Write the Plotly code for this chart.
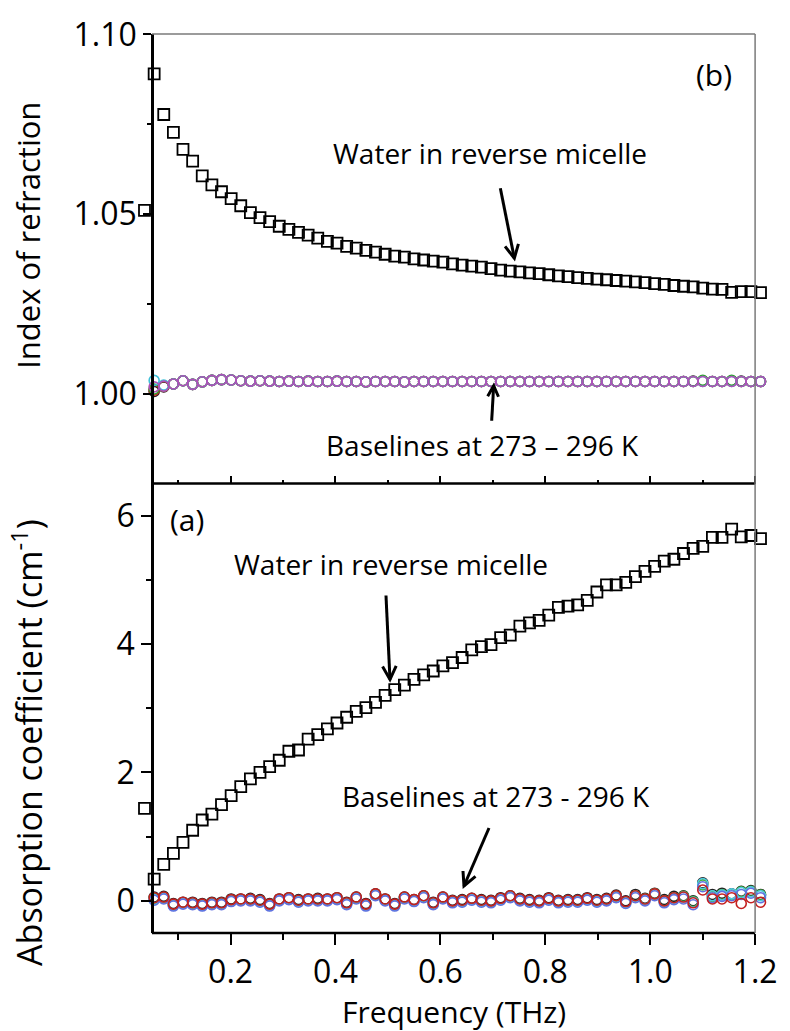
import math
import plotly.graph_objects as go

# Frequency grid (THz) shared by all spectra
freq = [0.0359, 0.0543, 0.0726, 0.0910, 0.1093, 0.1277, 0.1460, 0.1644, 0.1827, 0.2011,
        0.2194, 0.2378, 0.2561, 0.2745, 0.2928, 0.3112, 0.3295, 0.3479, 0.3662, 0.3846,
        0.4029, 0.4213, 0.4396, 0.4580, 0.4763, 0.4947, 0.5130, 0.5314, 0.5497, 0.5681,
        0.5864, 0.6048, 0.6231, 0.6415, 0.6598, 0.6782, 0.6965, 0.7149, 0.7332, 0.7516,
        0.7699, 0.7883, 0.8066, 0.8250, 0.8433, 0.8617, 0.8800, 0.8984, 0.9167, 0.9351,
        0.9534, 0.9718, 0.9901, 1.0085, 1.0268, 1.0452, 1.0635, 1.0819, 1.1002, 1.1186,
        1.1369, 1.1553, 1.1736, 1.1920, 1.2103]
freq_base = freq[1:]

# (b) index of refraction of water in reverse micelle
n_water = [1.0510, 1.0890, 1.0777, 1.0727, 1.0680, 1.0647, 1.0606, 1.0581, 1.0562, 1.0543,
           1.0523, 1.0504, 1.0490, 1.0479, 1.0466, 1.0457, 1.0449, 1.0441, 1.0433, 1.0424,
           1.0419, 1.0410, 1.0405, 1.0399, 1.0394, 1.0388, 1.0383, 1.0380, 1.0375, 1.0372,
           1.0369, 1.0366, 1.0361, 1.0358, 1.0355, 1.0352, 1.0348, 1.0344, 1.0341, 1.0339,
           1.0336, 1.0334, 1.0331, 1.0328, 1.0326, 1.0323, 1.0321, 1.0319, 1.0317, 1.0315,
           1.0313, 1.0311, 1.0309, 1.0306, 1.0304, 1.0301, 1.0299, 1.0297, 1.0294, 1.0291,
           1.0290, 1.0282, 1.0284, 1.0284, 1.0281]

# (b) baselines, 273 - 296 K
n_base_black = [1.0006, 1.0019, 1.0027, 1.0036, 1.0026, 1.0033, 1.0037, 1.0039, 1.0038, 1.0036,
                1.0035, 1.0036, 1.0035, 1.0034, 1.0035, 1.0034, 1.0035, 1.0034, 1.0034, 1.0035,
                1.0034, 1.0034, 1.0033, 1.0034, 1.0034, 1.0034, 1.0033, 1.0034, 1.0034, 1.0034,
                1.0034, 1.0034, 1.0034, 1.0034, 1.0034, 1.0034, 1.0034, 1.0034, 1.0034, 1.0034,
                1.0034, 1.0034, 1.0034, 1.0034, 1.0034, 1.0034, 1.0034, 1.0034, 1.0034, 1.0034,
                1.0034, 1.0034, 1.0034, 1.0034, 1.0034, 1.0034, 1.0035, 1.0036, 1.0034, 1.0034,
                1.0036, 1.0035, 1.0034, 1.0034]
n_base_red = [1.0010, 1.0020, 1.0027, 1.0036, 1.0026, 1.0033, 1.0037, 1.0039, 1.0038, 1.0036,
              1.0035, 1.0036, 1.0035, 1.0034, 1.0035, 1.0034, 1.0035, 1.0034, 1.0034, 1.0035,
              1.0034, 1.0034, 1.0033, 1.0034, 1.0034, 1.0034, 1.0033, 1.0034, 1.0034, 1.0034,
              1.0034, 1.0034, 1.0034, 1.0034, 1.0034, 1.0034, 1.0034, 1.0034, 1.0034, 1.0034,
              1.0034, 1.0034, 1.0034, 1.0034, 1.0034, 1.0034, 1.0034, 1.0034, 1.0034, 1.0034,
              1.0034, 1.0034, 1.0034, 1.0034, 1.0034, 1.0034, 1.0034, 1.0035, 1.0034, 1.0034,
              1.0035, 1.0034, 1.0034, 1.0034]
n_base_green = [1.0013, 1.0021, 1.0027, 1.0036, 1.0026, 1.0033, 1.0037, 1.0039, 1.0038, 1.0036,
                1.0035, 1.0036, 1.0035, 1.0034, 1.0035, 1.0034, 1.0035, 1.0034, 1.0034, 1.0035,
                1.0034, 1.0034, 1.0033, 1.0034, 1.0034, 1.0034, 1.0033, 1.0034, 1.0034, 1.0034,
                1.0034, 1.0034, 1.0034, 1.0034, 1.0034, 1.0034, 1.0034, 1.0034, 1.0034, 1.0034,
                1.0034, 1.0034, 1.0034, 1.0034, 1.0034, 1.0034, 1.0034, 1.0034, 1.0034, 1.0034,
                1.0034, 1.0034, 1.0034, 1.0034, 1.0034, 1.0034, 1.0034, 1.0037, 1.0034, 1.0034,
                1.0037, 1.0034, 1.0034, 1.0034]
n_base_cyan = [1.0037, 1.0024, 1.0027, 1.0036, 1.0026, 1.0033, 1.0037, 1.0039, 1.0038, 1.0036,
               1.0035, 1.0036, 1.0035, 1.0034, 1.0035, 1.0034, 1.0035, 1.0034, 1.0034, 1.0035,
               1.0034, 1.0034, 1.0033, 1.0034, 1.0034, 1.0034, 1.0033, 1.0034, 1.0034, 1.0034,
               1.0034, 1.0034, 1.0034, 1.0034, 1.0034, 1.0034, 1.0034, 1.0034, 1.0034, 1.0034,
               1.0034, 1.0034, 1.0034, 1.0034, 1.0034, 1.0034, 1.0034, 1.0034, 1.0034, 1.0034,
               1.0034, 1.0034, 1.0034, 1.0034, 1.0034, 1.0034, 1.0034, 1.0034, 1.0034, 1.0034,
               1.0034, 1.0034, 1.0034, 1.0034]
n_base_magenta = [1.0019, 1.0021, 1.0027, 1.0036, 1.0026, 1.0033, 1.0037, 1.0039, 1.0038, 1.0036,
                  1.0035, 1.0036, 1.0035, 1.0034, 1.0035, 1.0034, 1.0035, 1.0034, 1.0034, 1.0035,
                  1.0034, 1.0034, 1.0033, 1.0034, 1.0034, 1.0034, 1.0033, 1.0034, 1.0034, 1.0034,
                  1.0034, 1.0034, 1.0034, 1.0034, 1.0034, 1.0034, 1.0034, 1.0034, 1.0034, 1.0034,
                  1.0034, 1.0034, 1.0034, 1.0034, 1.0034, 1.0034, 1.0034, 1.0034, 1.0034, 1.0034,
                  1.0034, 1.0034, 1.0034, 1.0034, 1.0034, 1.0034, 1.0034, 1.0034, 1.0034, 1.0034,
                  1.0034, 1.0034, 1.0034, 1.0034]

# (a) absorption coefficient (cm^-1) of water in reverse micelle
alpha_water = [1.44, 0.34, 0.57, 0.74, 0.91, 1.10, 1.26, 1.35, 1.50, 1.64,
               1.78, 1.90, 2.00, 2.09, 2.19, 2.33, 2.35, 2.52, 2.59, 2.68,
               2.77, 2.86, 2.95, 3.01, 3.09, 3.20, 3.29, 3.36, 3.45, 3.52,
               3.58, 3.66, 3.71, 3.79, 3.91, 3.96, 3.99, 4.10, 4.14, 4.28,
               4.33, 4.37, 4.45, 4.57, 4.59, 4.61, 4.68, 4.81, 4.92, 4.92,
               4.96, 5.05, 5.13, 5.21, 5.29, 5.32, 5.41, 5.49, 5.52, 5.66,
               5.66, 5.79, 5.67, 5.69, 5.64]

# (a) baselines, 273 - 296 K
a_base_black = [0.06, 0.07, -0.04, -0.02, -0.02, -0.04, -0.02, -0.02, 0.03, 0.03,
                0.04, 0.02, -0.04, 0.03, 0.05, 0.02, 0.03, 0.04, 0.03, 0.05,
                -0.02, 0.06, -0.04, 0.11, 0.03, -0.04, 0.06, 0.02, 0.08, -0.02,
                0.06, 0.01, 0.02, 0.04, 0.02, 0.01, 0.05, 0.08, 0.04, 0.02,
                0.01, 0.05, 0.01, 0.02, 0.02, 0.05, 0.02, 0.04, 0.09, 0.00,
                0.10, 0.04, 0.12, 0.02, 0.07, 0.08, 0.00, 0.28, 0.10, 0.12,
                0.11, 0.15, 0.16, 0.10]
a_base_green = [0.04, 0.05, -0.06, -0.03, -0.04, -0.06, -0.04, -0.04, 0.01, 0.02,
                0.02, 0.00, -0.06, 0.02, 0.04, 0.00, 0.02, 0.02, 0.02, 0.04,
                -0.04, 0.05, -0.06, 0.10, 0.02, -0.06, 0.05, 0.01, 0.07, -0.04,
                0.05, -0.01, 0.00, 0.03, 0.00, -0.01, 0.03, 0.07, 0.02, 0.00,
                -0.01, 0.03, -0.01, 0.00, 0.00, 0.03, 0.00, 0.02, 0.07, -0.02,
                0.08, 0.03, 0.11, 0.00, 0.05, 0.07, -0.01, 0.25, 0.07, 0.10,
                0.10, 0.14, 0.15, 0.09]
a_base_cyan = [0.02, 0.04, -0.07, -0.04, -0.05, -0.07, -0.05, -0.05, 0.00, 0.01,
               0.01, -0.01, -0.07, 0.01, 0.03, -0.01, 0.01, 0.01, 0.01, 0.03,
               -0.05, 0.04, -0.07, 0.09, 0.01, -0.07, 0.04, 0.00, 0.06, -0.05,
               0.04, -0.02, -0.01, 0.02, -0.01, -0.02, 0.02, 0.06, 0.01, -0.01,
               -0.02, 0.02, -0.02, -0.01, -0.01, 0.02, -0.01, 0.01, 0.06, -0.03,
               0.07, 0.02, 0.10, -0.01, 0.04, 0.06, -0.02, 0.27, 0.08, 0.09,
               0.11, 0.13, 0.14, 0.08]
a_base_blue = [0.01, 0.03, -0.08, -0.05, -0.06, -0.08, -0.06, -0.06, -0.01, 0.00,
               0.00, -0.02, -0.08, 0.00, 0.02, -0.02, 0.00, 0.00, 0.00, 0.02,
               -0.06, 0.03, -0.08, 0.08, 0.00, -0.08, 0.03, -0.01, 0.05, -0.06,
               0.03, -0.03, -0.02, 0.01, -0.02, -0.03, 0.01, 0.05, 0.00, -0.02,
               -0.03, 0.01, -0.03, -0.02, -0.02, 0.01, -0.02, 0.00, 0.05, -0.04,
               0.05, 0.00, 0.08, -0.03, 0.02, 0.03, -0.06, 0.22, 0.05, 0.07,
               0.08, 0.10, 0.12, 0.05]
a_base_red = [0.05, 0.06, -0.05, -0.02, -0.03, -0.05, -0.03, -0.03, 0.02, 0.03,
              0.03, 0.01, -0.05, 0.03, 0.05, 0.01, 0.03, 0.03, 0.03, 0.05,
              -0.03, 0.06, -0.05, 0.11, 0.03, -0.05, 0.06, 0.02, 0.08, -0.03,
              0.06, 0.00, 0.01, 0.04, 0.01, 0.00, 0.04, 0.08, 0.03, 0.01,
              0.00, 0.04, 0.00, 0.01, 0.01, 0.04, 0.01, 0.03, 0.08, -0.01,
              0.08, 0.03, 0.11, 0.00, 0.05, 0.06, -0.03, 0.17, 0.03, 0.03,
              0.05, -0.04, 0.05, -0.02]

# axis limits and ticks
f_lo, f_hi = 0.05, 1.2
x_major = [0.2, 0.4, 0.6, 0.8, 1.0, 1.2]
x_major_text = ["0.2", "0.4", "0.6", "0.8", "1.0", "1.2"]
x_minor = [0.1, 0.3, 0.5, 0.7, 0.9, 1.1]
n_major = [1.00, 1.05, 1.10]
n_major_text = ["1.00", "1.05", "1.10"]
n_minor = [1.025, 1.075]
a_major = [0, 2, 4, 6]
a_major_text = ["0", "2", "4", "6"]
a_minor = [1, 3, 5]

FONT = "Open Sans"
W, H = 790, 1031
ML, MR, MT, MB = 144, 19, 27, 98
PAD = 8                      # pixels of plot area kept outside the frequency frame on each side
plot_w = W - ML - MR
px_per_thz = (plot_w - 2 * PAD) / (f_hi - f_lo)
x_range = [f_lo - PAD / px_per_thz, f_hi + PAD / px_per_thz]
y_pos = PAD / plot_w

fig = go.Figure()


def circles(x, y, color, xa, ya):
    fig.add_trace(go.Scatter(
        x=x, y=y, mode="markers", xaxis=xa, yaxis=ya, cliponaxis=False,
        marker=dict(symbol="circle-open", size=10, color=color, line=dict(width=1.6)),
        hoverinfo="skip"))


def squares(x, y, xa, ya):
    fig.add_trace(go.Scatter(
        x=x, y=y, mode="markers", xaxis=xa, yaxis=ya, cliponaxis=False,
        marker=dict(symbol="square-open", size=11, color="black", line=dict(width=1.8)),
        hoverinfo="skip"))


# panel (b): refractive index
for ys, c in [(n_base_black, "#202020"), (n_base_red, "#d02020"), (n_base_green, "#30a030"),
              (n_base_cyan, "#40c0d8"), (n_base_magenta, "#b050b8")]:
    circles(freq_base, ys, c, "x2", "y2")
squares(freq, n_water, "x2", "y2")

# panel (a): absorption coefficient
for ys, c in [(a_base_black, "#202020"), (a_base_green, "#40b040"), (a_base_cyan, "#50c8e0"),
              (a_base_blue, "#6070e0"), (a_base_red, "#c42020")]:
    circles(freq_base, ys, c, "x", "y")
squares(freq, alpha_water, "x", "y")

tickfont = dict(family=FONT, size=32, color="black")
x_common = dict(showline=False, showgrid=False, zeroline=False, tickcolor="black",
                tickwidth=2, tickfont=tickfont)
y_common = dict(showline=True, linecolor="black", linewidth=2.5, showgrid=False,
                zeroline=False, tickcolor="black", tickwidth=2, tickfont=tickfont)

fig.update_layout(
    width=W, height=H,
    margin=dict(l=ML, r=MR, t=MT, b=MB),
    paper_bgcolor="white", plot_bgcolor="white",
    showlegend=False,
    font=dict(family=FONT, color="black"),
    xaxis=dict(domain=[0, 1], anchor="y", range=x_range,
               tickmode="array", tickvals=x_major, ticktext=x_major_text,
               ticks="outside", ticklen=11,
               minor=dict(tickmode="array", tickvals=x_minor, ticks="outside",
                          ticklen=6, tickwidth=2, tickcolor="black"),
               **x_common),
    yaxis=dict(domain=[0, 0.5], anchor="free", position=y_pos, range=[-0.5, 6.5],
               tickmode="array", tickvals=a_major, ticktext=a_major_text,
               ticks="outside", ticklen=10,
               minor=dict(tickmode="array", tickvals=a_minor, ticks="outside",
                          ticklen=5, tickwidth=2, tickcolor="black"),
               **y_common),
    xaxis2=dict(domain=[0, 1], anchor="y2", matches="x", range=x_range,
                tickmode="array", tickvals=x_major, showticklabels=False,
                ticks="inside", ticklen=8,
                minor=dict(tickmode="array", tickvals=x_minor, ticks="inside",
                           ticklen=4, tickwidth=2, tickcolor="black"),
                **x_common),
    yaxis2=dict(domain=[0.5, 1], anchor="free", position=y_pos, range=[0.975, 1.1001],
                tickmode="array", tickvals=n_major, ticktext=n_major_text,
                ticks="outside", ticklen=8,
                minor=dict(tickmode="array", tickvals=n_minor, ticks="outside",
                           ticklen=4, tickwidth=2, tickcolor="black"),
                **y_common),
)

# frequency axis lines (bold) and the thin frame on top and right
axis_line = dict(color="black", width=2.5)
frame = dict(color="#7a7a7a", width=1.5)
fig.add_shape(type="line", xref="x", yref="paper", x0=f_lo, x1=f_hi, y0=0, y1=0, line=axis_line, layer="above")
fig.add_shape(type="line", xref="x", yref="paper", x0=f_lo, x1=f_hi, y0=0.5, y1=0.5, line=axis_line, layer="above")
fig.add_shape(type="line", xref="x", yref="paper", x0=f_hi, x1=f_hi, y0=0, y1=1, line=frame, layer="above")
fig.add_shape(type="line", xref="x", yref="paper", x0=f_lo, x1=f_hi, y0=1, y1=1, line=frame, layer="above")


def arrow(xref, yref, tip_x, tip_y, dx, dy, head=15, spread=27):
    """Arrow with an open V head; (dx, dy) is the tail offset from the tip in pixels (y up)."""
    L = math.hypot(dx, dy)
    ux, uy = dx / L, dy / L
    a = math.radians(spread)
    w1 = (head * (ux * math.cos(a) - uy * math.sin(a)), head * (ux * math.sin(a) + uy * math.cos(a)))
    w2 = (head * (ux * math.cos(-a) - uy * math.sin(-a)), head * (ux * math.sin(-a) + uy * math.cos(-a)))
    base = dict(type="path", xref=xref, yref=yref, xsizemode="pixel", ysizemode="pixel",
                xanchor=tip_x, yanchor=tip_y, line=dict(color="black", width=3), layer="above")
    fig.add_shape(path=f"M{dx:.1f},{dy:.1f} L0,0", **base)
    fig.add_shape(path=f"M{w1[0]:.1f},{w1[1]:.1f} L0,0 L{w2[0]:.1f},{w2[1]:.1f}", **base)


arrow("x2", "y2", 0.741, 1.0377, -14, 70)
arrow("x2", "y2", 0.7016, 1.0022, -2, -35, head=12)
arrow("x", "y", 0.5039, 3.447, -4, 84)
arrow("x", "y", 0.645, 0.232, 25, 58)


def note(text, x, y, xref, yref, size=28, yshift=5):
    fig.add_annotation(text=text, x=x, y=y, xref=xref, yref=yref, showarrow=False,
                       xanchor="center", yanchor="middle", yshift=yshift,
                       font=dict(family=FONT, size=size, color="black"))


note("(b)", 1.1216, 1.0865, "x2", "y2", size=30, yshift=8)
note("Water in reverse micelle", 0.694, 1.0656, "x2", "y2")
note("Baselines at 273 \u2013 296 K", 0.681, 0.9843, "x2", "y2")
note("(a)", 0.116, 5.858, "x", "y", size=30)
note("Water in reverse micelle", 0.5057, 5.162, "x", "y")
note("Baselines at 273 - 296 K", 0.7054, 1.561, "x", "y")


def paper_x(px):
    return (px - ML) / plot_w


# axis titles
fig.add_annotation(text="Index of refraction", x=paper_x(27), y=0.776, xref="paper", yref="paper",
                   textangle=-90, showarrow=False, xanchor="center", yanchor="middle",
                   font=dict(family=FONT, size=31, color="black"))
fig.add_annotation(text="Absorption coefficient (cm<sup>-1</sup>)", x=paper_x(26), y=0.212,
                   xref="paper", yref="paper", textangle=-90, showarrow=False,
                   xanchor="center", yanchor="middle",
                   font=dict(family=FONT, size=34, color="black"))
fig.add_annotation(text="Frequency (THz)", x=paper_x(458), y=-0.087, xref="paper", yref="paper",
                   showarrow=False, xanchor="center", yanchor="middle",
                   font=dict(family=FONT, size=30, color="black"))

fig.write_html("out.html")
